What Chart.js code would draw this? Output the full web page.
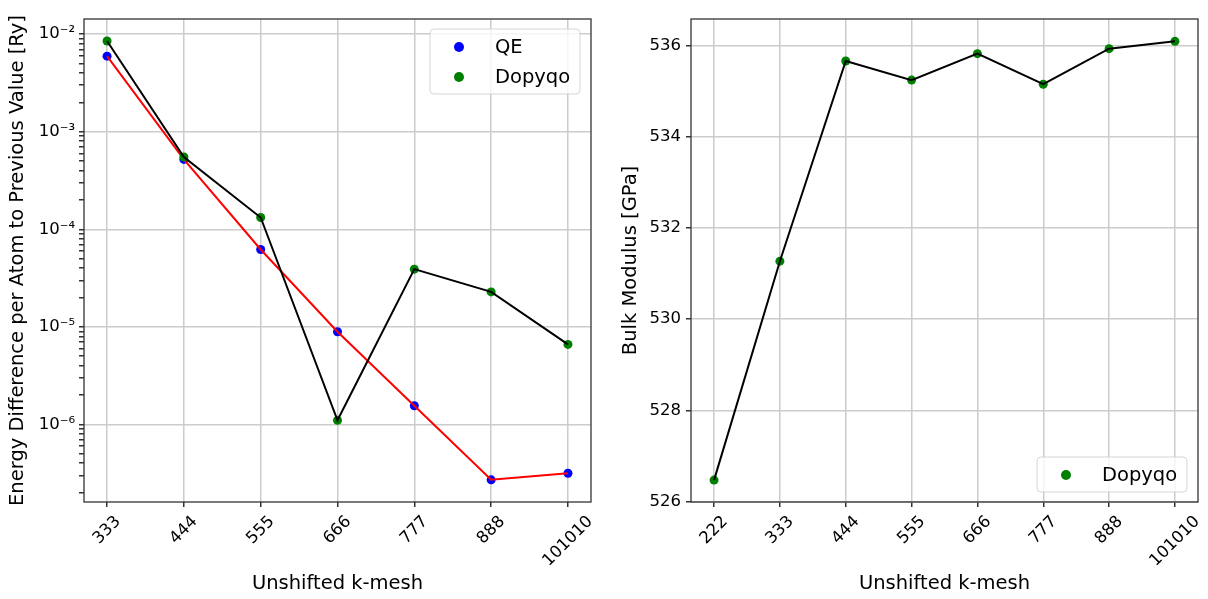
<!DOCTYPE html>
<html>
<head>
<meta charset="utf-8">
<script src="https://cdn.jsdelivr.net/npm/chart.js@4.4.0/dist/chart.umd.min.js"></script>
<style>
  body { margin: 0; background: #fff; }
  .wrap { display: flex; width: 1208px; height: 599px; }
  canvas { display: block; }
</style>
</head>
<body>
<div class="wrap">
  <canvas id="energyChart" width="604" height="599"></canvas>
  <canvas id="bulkChart" width="604" height="599"></canvas>
</div>
<script>
// k-mesh categories
let energyMesh = ['333', '444', '555', '666', '777', '888', '101010'];
let bulkMesh = ['222', '333', '444', '555', '666', '777', '888', '101010'];

// energy difference per atom to previous value [Ry]
let qeEnergy = [5.95e-3, 5.2e-4, 6.2e-5, 8.9e-6, 1.55e-6, 2.7e-7, 3.15e-7];
let dopyqoEnergy = [8.5e-3, 5.5e-4, 1.32e-4, 1.1e-6, 3.9e-5, 2.28e-5, 6.6e-6];

// bulk modulus [GPa]
let dopyqoBulk = [526.47, 531.27, 535.66, 535.24, 535.82, 535.15, 535.93, 536.09];

// tick values
let energyTicks = [1e-6, 1e-5, 1e-4, 1e-3, 1e-2];
let bulkTicks = [526, 528, 530, 532, 534, 536];

let tickFont = { family: 'DejaVu Sans', size: 16.5 };
let titleFont = { family: 'DejaVu Sans', size: 19.5 };
let gridColor = '#cccccc';

function pts(arr) {
    return arr.map((v, i) => ({ x: i, y: v }));
}

function sup(v) {
    let map = { '-': '\u207B', '0': '\u2070', '1': '\u00B9', '2': '\u00B2', '3': '\u00B3', '4': '\u2074',
        '5': '\u2075', '6': '\u2076', '7': '\u2077', '8': '\u2078', '9': '\u2079' };
    let e = String(Math.round(Math.log10(v)));
    return '10' + e.split('').map(c => map[c]).join('');
}

function meshAxis(labels, margin) {
    return {
        type: 'linear',
        min: -margin,
        max: labels.length - 1 + margin,
        afterBuildTicks: s => { s.ticks = labels.map((_, i) => ({ value: i })); },
        afterFit: s => { s.height = 97; },
        ticks: {
            autoSkip: false, minRotation: 45, maxRotation: 45, color: '#000', font: tickFont, padding: 5,
            callback: v => labels[v]
        },
        grid: { color: gridColor, lineWidth: 1.5, tickColor: '#333', tickLength: 5 },
        border: { display: false },
        title: { display: true, text: 'Unshifted k-mesh', color: '#000', font: titleFont, padding: { top: 0, bottom: 3 } }
    };
}

// matplotlib style: rotated tick label centred under its tick
let centerRotatedLabels = {
    id: 'centerRotatedLabels',
    beforeDraw(chart) {
        let s = chart.scales.x;
        let ctx = chart.ctx;
        let items = s.getLabelItems(chart.chartArea);
        let top = s.top + 13;
        items.forEach((item, i) => {
            ctx.font = item.font.string;
            let w = ctx.measureText(item.label).width;
            let h = item.font.size * 0.7;
            item.options.textAlign = 'center';
            item.options.textBaseline = 'middle';
            item.textOffset = 0;
            item.options.translation = [s.getPixelForTick(i), top + (w + h) * Math.SQRT1_2 / 2];
        });
    }
};

let frame = {
    id: 'frame',
    afterDraw(chart) {
        let a = chart.chartArea, ctx = chart.ctx;
        ctx.save();
        ctx.strokeStyle = '#333';
        ctx.lineWidth = 1.3;
        ctx.strokeRect(a.left, a.top, a.right - a.left, a.bottom - a.top);
        ctx.restore();
    }
};

let boxLegend = {
    id: 'boxLegend',
    afterDraw(chart, args, opts) {
        let ctx = chart.ctx, a = chart.chartArea;
        let items = chart.data.datasets.filter(d => d.showLine === false);
        let w = 150, h = 5 + 30 * items.length;
        let x = a.right - 11 - w;
        let y = opts.corner === 'bottom' ? a.bottom - 10 - h : a.top + 10;
        ctx.save();
        ctx.beginPath();
        ctx.roundRect(x, y, w, h, 4);
        ctx.fillStyle = 'rgba(255,255,255,0.8)';
        ctx.fill();
        ctx.strokeStyle = 'rgba(204,204,204,0.8)';
        ctx.lineWidth = 1;
        ctx.stroke();
        items.forEach((d, i) => {
            let cy = y + 18 + 30 * i;
            ctx.beginPath();
            ctx.arc(x + 29, cy, 5, 0, Math.PI * 2);
            ctx.fillStyle = d.pointBackgroundColor;
            ctx.fill();
            ctx.fillStyle = '#000';
            ctx.font = '19.5px "DejaVu Sans"';
            ctx.textBaseline = 'middle';
            ctx.fillText(d.label, x + 65, cy + 1);
        });
        ctx.restore();
    }
};

function pointSet(label, values, color, order) {
    return {
        label: label, data: pts(values), showLine: false, order: order,
        pointRadius: 4.5, pointBackgroundColor: color, pointBorderWidth: 0, borderColor: color
    };
}

function lineSet(label, values, color, order) {
    return {
        label: label, data: pts(values), showLine: true, order: order,
        borderColor: color, borderWidth: 2, pointRadius: 0, fill: false, tension: 0
    };
}

let energyCtx = document.getElementById('energyChart').getContext('2d');
let energyChart = new Chart(energyCtx, {
    type: 'line',
    data: {
        datasets: [
            pointSet('QE', qeEnergy, 'blue', 4),
            lineSet('QE line', qeEnergy, 'red', 3),
            pointSet('Dopyqo', dopyqoEnergy, 'green', 2),
            lineSet('Dopyqo line', dopyqoEnergy, 'black', 1)
        ]
    },
    options: {
        responsive: false,
        animation: false,
        events: [],
        layout: { padding: { top: 19, right: 13, left: 0, bottom: 0 } },
        plugins: { legend: { display: false }, tooltip: { enabled: false }, boxLegend: { corner: 'top' } },
        scales: {
            x: meshAxis(energyMesh, 0.3),
            y: {
                type: 'logarithmic',
                min: 1.6e-7,
                max: 1.43e-2,
                afterBuildTicks: s => {
                    let decades = [energyTicks[0] / 10].concat(energyTicks);
                    let list = [];
                    decades.forEach(d => {
                        for (let k = 1; k <= 9; k++) {
                            let v = k === 1 ? d : k * d;
                            if (v >= s.min && v <= s.max) list.push({ value: v });
                        }
                    });
                    s.ticks = list;
                },
                afterFit: s => { s.width = 84; },
                ticks: {
                    autoSkip: false, color: '#000', font: tickFont, padding: 4,
                    callback: v => energyTicks.includes(v) ? sup(v) : ''
                },
                grid: {
                    color: c => (c.tick && energyTicks.includes(c.tick.value)) ? gridColor : 'rgba(0,0,0,0)',
                    lineWidth: 1.5, tickColor: '#333', tickLength: 5
                },
                border: { display: false },
                title: {
                    display: true, text: 'Energy Difference per Atom to Previous Value [Ry]',
                    color: '#000', font: titleFont, padding: { top: 6, bottom: 0 }
                }
            }
        }
    },
    plugins: [centerRotatedLabels, frame, boxLegend]
});

let bulkCtx = document.getElementById('bulkChart').getContext('2d');
let bulkChart = new Chart(bulkCtx, {
    type: 'line',
    data: {
        datasets: [
            pointSet('Dopyqo', dopyqoBulk, 'green', 2),
            lineSet('Dopyqo line', dopyqoBulk, 'black', 1)
        ]
    },
    options: {
        responsive: false,
        animation: false,
        events: [],
        layout: { padding: { top: 19, right: 10, left: 0, bottom: 0 } },
        plugins: { legend: { display: false }, tooltip: { enabled: false }, boxLegend: { corner: 'bottom' } },
        scales: {
            x: meshAxis(bulkMesh, 0.35),
            y: {
                type: 'linear',
                min: 525.99,
                max: 536.58,
                afterBuildTicks: s => { s.ticks = bulkTicks.map(v => ({ value: v })); },
                afterFit: s => { s.width = 87; },
                ticks: { autoSkip: false, color: '#000', font: tickFont, padding: 5 },
                grid: { color: gridColor, lineWidth: 1.5, tickColor: '#333', tickLength: 5 },
                border: { display: false },
                title: {
                    display: true, text: 'Bulk Modulus [GPa]',
                    color: '#000', font: titleFont, padding: { top: 15, bottom: 0 }
                }
            }
        }
    },
    plugins: [centerRotatedLabels, frame, boxLegend]
});
</script>
</body>
</html>
